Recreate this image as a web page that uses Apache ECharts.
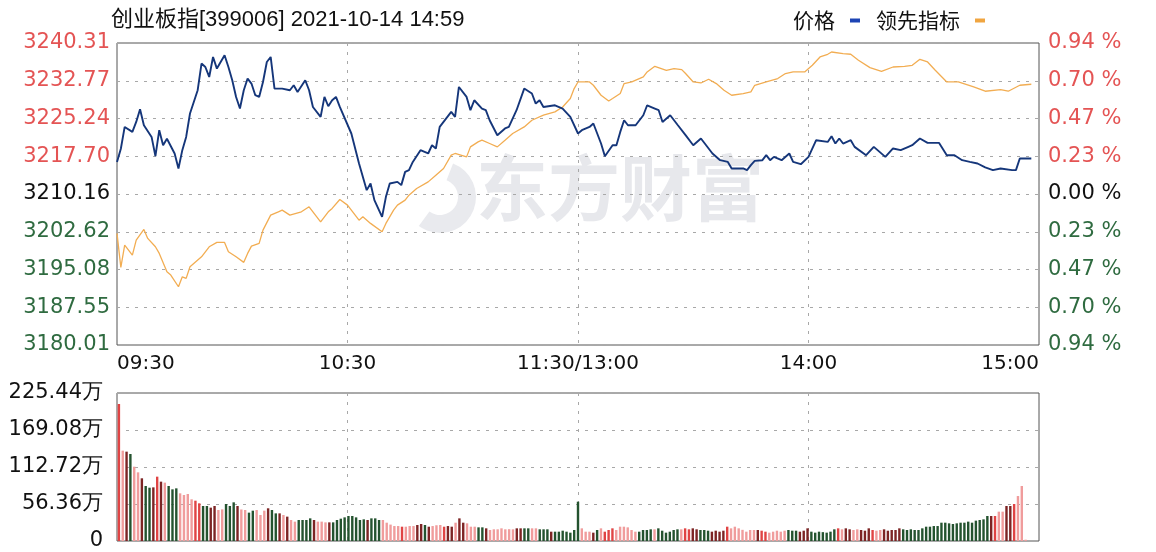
<!DOCTYPE html>
<html>
<head>
<meta charset="utf-8">
<script src="https://cdn.jsdelivr.net/npm/echarts@6/dist/echarts.min.js"></script>
<style>
html,body{margin:0;padding:0;background:#fff;}
#chart{width:1156px;height:552px;}
</style>
</head>
<body>
<div id="chart"></div>
<script>
// ---------- data ----------
const titleText = '创业板指[399006] 2021-10-14 14:59';
const timeLabels = ['09:30', '10:30', '11:30/13:00', '14:00', '15:00'];
const priceTickLabels = ['3180.01', '3187.55', '3195.08', '3202.62', '3210.16', '3217.70', '3225.24', '3232.77', '3240.31'];
const pctTickLabels = ['0.94 %', '0.70 %', '0.47 %', '0.23 %', '0.00 %', '0.23 %', '0.47 %', '0.70 %', '0.94 %'];
const volTicks = [0, 56.36, 112.72, 169.08, 225.44];

// price line: [minute index from 09:30, value]
const priceData = [
 [0,3216.57],[1,3219.2],[2,3223.55],[4,3222.56],[5,3224.55],[6,3227.09],[7,3223.89],[9,3221.56],[10,3217.71],[11,3222.90],
 [12,3219.90],[13,3221.20],[15,3218.25],[16,3215.26],[17,3218.91],[18,3221.56],[19,3226.23],[21,3230.88],[22,3236.20],[23,3235.52],
 [24,3233.53],[25,3237.52],[26,3235.20],[28,3237.86],[29,3235.52],[30,3232.87],[31,3229.54],[32,3227.22],[33,3230.88],[34,3233.21],
 [35,3232.21],[36,3229.88],[37,3229.54],[38,3232.53],[39,3236.52],[40,3237.52],[41,3231.21],[43,3231.21],[45,3230.88],[46,3231.87],
 [47,3230.54],[49,3232.87],[50,3230.88],[51,3227.54],[53,3225.55],[54,3229.54],[55,3227.68],[56,3228.88],[57,3229.54],[58,3227.54],
 [61,3222.24],[63,3216.25],[65,3210.93],[66,3212.26],[67,3208.93],[69,3205.60],[70,3209.59],[71,3212.26],[73,3212.58],[74,3211.93],
 [75,3214.58],[76,3214.92],[77,3216.57],[79,3218.91],[81,3218.25],[82,3219.90],[83,3219.25],[84,3223.55],[87,3226.55],[88,3225.55],
 [89,3231.53],[91,3229.54],[92,3226.89],[93,3228.88],[95,3227.22],[96,3226.89],[97,3224.89],[99,3221.90],[101,3223.24],[102,3223.55],
 [104,3226.89],[106,3231.21],[108,3230.22],[109,3228.22],[110,3228.88],[111,3227.54],[114,3227.88],[116,3227.22],[118,3225.55],[120,3222.24],
 [121,3222.90],[123,3223.55],[124,3224.23],[126,3220.24],[127,3217.71],[129,3219.90],[130,3219.90],[131,3222.56],[132,3224.89],[133,3223.89],
 [135,3223.89],[137,3225.89],[138,3227.88],[140,3227.22],[141,3226.89],[142,3224.55],[144,3225.89],[146,3223.89],[148,3221.90],[150,3219.90],
 [152,3221.24],[153,3220.24],[155,3218.25],[157,3216.91],[159,3216.57],[160,3215.26],[163,3215.26],[164,3214.92],[165,3215.91],[166,3216.77],
 [168,3216.91],[169,3217.91],[170,3216.91],[171,3217.57],[173,3216.91],[175,3218.25],[176,3216.57],[178,3216.11],[180,3217.57],[182,3220.90],
 [185,3220.56],[186,3221.70],[187,3220.24],[188,3221.24],[189,3220.24],[191,3220.90],[192,3219.57],[195,3217.91],[197,3219.57],[200,3217.57],
 [202,3219.25],[204,3218.91],[206,3219.57],[207,3219.90],[209,3221.24],[211,3220.36],[214,3220.36],[216,3217.91],[218,3217.91],[220,3216.91],
 [222,3216.57],[224,3216.25],[226,3215.46],[228,3214.92],[230,3215.26],[233,3214.92],[234,3214.92],[235,3217.25],[238,3217.25]
];

// leading indicator line
const leadData = [
 [0,3202.29],[1,3195.5],[2,3199.96],[3,3198.96],[4,3197.96],[5,3200.95],[7,3203.09],[8,3201.29],[10,3199.62],[11,3198.30],
 [13,3194.63],[14,3193.97],[16,3191.64],[17,3193.63],[18,3193.31],[19,3195.63],[22,3197.62],[24,3199.62],[26,3200.50],[28,3200.50],
 [29,3198.62],[31,3197.62],[33,3196.51],[34,3198.30],[35,3199.76],[37,3200.30],[38,3202.95],[40,3205.94],[42,3206.60],[43,3206.94],
 [45,3205.94],[48,3206.60],[50,3207.60],[53,3204.60],[55,3206.60],[56,3207.28],[58,3209.07],[60,3207.94],[63,3204.94],[64,3205.60],
 [66,3204.29],[69,3202.61],[70,3204.29],[72,3206.94],[73,3207.94],[75,3208.93],[76,3209.93],[78,3211.27],[81,3212.58],[83,3213.92],
 [85,3215.26],[87,3217.91],[88,3218.25],[91,3217.57],[92,3219.57],[94,3220.56],[95,3220.90],[97,3220.24],[99,3219.57],[101,3220.90],
 [103,3222.24],[106,3223.55],[108,3224.89],[111,3225.89],[114,3226.55],[116,3227.54],[118,3229.22],[119,3231.21],[120,3232.53],[123,3232.53],
 [124,3231.87],[126,3229.88],[128,3228.74],[129,3229.22],[131,3230.22],[132,3232.21],[134,3232.53],[137,3233.53],[138,3234.53],[140,3235.66],
 [143,3234.86],[145,3235.20],[147,3235.00],[148,3234.21],[150,3232.53],[152,3232.33],[154,3233.07],[156,3232.21],[158,3230.88],[160,3229.88],
 [163,3230.22],[165,3230.54],[166,3231.87],[169,3232.53],[172,3233.21],[174,3234.21],[176,3234.53],[179,3234.53],[181,3235.86],[183,3237.52],
 [185,3238.06],[186,3238.51],[189,3238.20],[191,3238.06],[193,3236.86],[196,3235.40],[199,3234.66],[202,3235.52],[205,3235.66],[207,3235.86],
 [209,3237.06],[211,3236.52],[213,3234.86],[216,3232.53],[219,3232.53],[223,3231.53],[226,3230.68],[230,3231.01],[232,3230.68],[235,3231.87],
 [238,3232.07]
];

// volume (万), one per minute
const volMorning = [
 208.7,137.6,136.1,132.5,113.2,104.6,95.5,83.8,81.2,81.7,
 98.0,90.4,88.9,83.8,78.7,80.2,72.6,70.1,71.6,63.5,
 61.4,57.4,53.3,53.3,50.8,53.3,47.2,48.2,56.4,53.3,
 58.9,53.3,48.0,47.2,43.2,46.2,47.2,39.6,46.2,49.8,
 47.2,42.1,42.1,39.6,37.1,32.0,29.5,32.0,32.0,32.0,
 34.5,32.0,29.5,29.5,28.4,28.4,28.4,32.0,34.0,36.0,
 38.1,38.1,36.0,32.0,33.0,32.0,34.5,34.5,32.0,32.0,
 27.9,25.0,22.8,22.8,21.8,21.8,22.8,22.8,24.4,25.9,
 24.4,21.8,22.8,24.0,24.4,21.8,22.8,21.8,27.9,34.5,
 27.9,26.9,21.8,21.8,20.8,20.8,19.3,16.8,17.8,17.8,
 19.3,17.8,18.0,17.8,19.3,19.3,19.3,19.3,19.3,19.3,
 17.8,17.8,17.8,14.2,14.2,14.2,15.7,14.2,12.7,16.8,
 59.9
];
const volAfternoon = [
 19.3,14.2,14.2,12.7,16.8,19.3,14.2,16.8,19.3,16.8,
 21.8,21.8,20.8,16.8,14.2,14.2,16.8,16.8,17.8,17.8,
 19.3,15.7,12.7,14.2,16.8,17.8,17.8,19.3,17.8,19.3,
 17.8,16.8,16.8,15.7,14.2,15.7,14.2,15.7,21.8,19.3,
 21.8,19.3,17.0,14.2,16.8,16.8,16.8,15.7,14.2,12.7,
 14.2,15.7,14.2,15.7,16.8,15.7,15.7,14.2,15.7,19.3,
 14.2,12.7,14.2,13.5,12.7,14.2,17.8,19.3,17.8,19.3,
 17.8,16.8,17.8,16.8,15.7,19.3,16.8,15.7,16.8,17.8,
 15.7,16.8,16.8,19.3,17.8,16.8,17.8,16.8,16.8,19.3,
 21.8,21.8,22.8,22.8,27.9,27.9,26.9,25.9,26.9,27.9,
 27.9,29.5,27.9,31.0,32.0,33.0,38.1,38.1,38.1,44.7,
 44.7,53.3,53.3,56.4,68.5,83.8,2.0
];
// bar colour codes: p pink, m red, d dark red, g dark green
const volCodesMorning = 'mpdgppdggd' + 'mdpgggpppp' + 'mmggddppgg' + 'gdppggpppd' + 'ggdpdppggg' + 'gdpppdgggg' +
  'gggggdgggp' + 'ppppmpppdd' + 'gdpppmddpd' + 'dpppggdppp' + 'ppppddggpp' + 'gggdgggggg' + 'g';
const volCodesAfternoon = 'pppdgpmmmp' + 'pppppggggp' + 'ggggggpmmd' + 'dgggddddmp' + 'ppppppdmmp' + 'ppppgggddd' +
  'gggggggmpd' + 'dppdddmppd' + 'ddddgggggg' + 'gggggggggg' + 'gggggggdmp' + 'pddmppp';

// ---------- build ----------
const volumes = volMorning.concat(volAfternoon);
const volCodes = volCodesMorning + volCodesAfternoon;
const codeColor = { p: '#f09c9c', m: '#e04444', d: '#7d2424', g: '#24532f' };
const minuteCats = [];
for (let i = 0; i <= 240; i++) {
  let h, m;
  if (i <= 120) { const t = 9 * 60 + 30 + i; h = Math.floor(t / 60); m = t % 60; }
  else { const t = 13 * 60 + (i - 120); h = Math.floor(t / 60); m = t % 60; }
  minuteCats.push(String(h).padStart(2, '0') + ':' + String(m).padStart(2, '0'));
}
const volBars = volumes.map((v, i) => ({ value: v, itemStyle: { color: codeColor[volCodes[i]] || '#e04444' } }));

const RED = '#e45454', GREEN = '#2f6b40', BLACK = '#111';
const labelFont = 'DejaVu Sans';
const dashStyle = { color: '#a8a8a8', type: [3, 6], width: 1 };

const chart = echarts.init(document.getElementById('chart'), null, { renderer: 'canvas' });
chart.setOption({
  animation: false,
  backgroundColor: '#ffffff',
  title: {
    text: titleText, left: 106, top: 4,
    textStyle: { fontFamily: 'Liberation Sans, Noto Sans CJK SC', fontSize: 22, fontWeight: 'normal', color: '#111' }
  },
  legend: {
    top: 5, right: 166, align: 'right', icon: 'rect', itemWidth: 10, itemHeight: 4, itemGap: 16,
    textStyle: { fontFamily: 'Noto Sans CJK SC', fontSize: 21, color: '#111', padding: [0, 10, 0, 0] },
    data: [
      { name: '价格', itemStyle: { color: '#1d44b4' } },
      { name: '领先指标', itemStyle: { color: '#f0a540' } }
    ]
  },
  graphic: [
    { type: 'sector', z: 0, shape: { cx: 440, cy: 197, r: 36, r0: 18, startAngle: -1.2, endAngle: 2.2 },
      style: { fill: '#e9eaee' } },
    { type: 'text', z: 0, left: 476, top: 152,
      style: { text: '东方财富', font: 'bold 72px "Noto Sans CJK SC"', fill: '#e7e8ec' } }
  ],
  grid: [
    { left: 117, top: 43, width: 922, height: 302, show: true, borderColor: '#555', borderWidth: 1, backgroundColor: 'transparent' },
    { left: 117, top: 393, width: 922, height: 148, show: true, borderColor: '#555', borderWidth: 1, backgroundColor: 'transparent' }
  ],
  xAxis: [
    { type: 'value', gridIndex: 0, min: 0, max: 240, interval: 60,
      axisLine: { show: false }, axisTick: { show: false },
      splitLine: { show: true, lineStyle: dashStyle },
      axisLabel: { margin: 9, fontFamily: labelFont, fontSize: 20, color: '#111',
        alignMinLabel: 'left', alignMaxLabel: 'right',
        formatter: v => timeLabels[Math.round(v / 60)] } },
    { type: 'category', gridIndex: 1, data: minuteCats, boundaryGap: true, show: false },
    { type: 'value', gridIndex: 1, min: 0, max: 240, interval: 60,
      axisLine: { show: false }, axisTick: { show: false }, axisLabel: { show: false },
      splitLine: { show: true, lineStyle: dashStyle } }
  ],
  yAxis: [
    { type: 'value', gridIndex: 0, min: Number(priceTickLabels[0]), max: Number(priceTickLabels[8]), show: false, splitLine: { show: false } },
    { type: 'value', gridIndex: 0, position: 'left', min: 0, max: 8, interval: 1,
      axisLine: { show: false }, axisTick: { show: false },
      splitLine: { show: true, lineStyle: dashStyle },
      axisLabel: { margin: 7, fontFamily: labelFont, fontSize: 21,
        formatter: v => priceTickLabels[v],
        color: v => (v > 4 ? RED : (v < 4 ? GREEN : BLACK)) } },
    { type: 'value', gridIndex: 0, position: 'right', min: 0, max: 8, interval: 1,
      axisLine: { show: false }, axisTick: { show: false }, splitLine: { show: false },
      axisLabel: { margin: 9, fontFamily: labelFont, fontSize: 21,
        formatter: v => pctTickLabels[8 - v],
        color: v => (v > 4 ? RED : (v < 4 ? GREEN : BLACK)) } },
    { type: 'value', gridIndex: 1, min: volTicks[0], max: volTicks[4], interval: volTicks[1],
      axisLine: { show: false }, axisTick: { show: false },
      splitLine: { show: true, lineStyle: dashStyle },
      axisLabel: { margin: 14, fontFamily: labelFont, fontSize: 21, color: '#111',
        formatter: v => (v === 0 ? '0' : v.toFixed(2) + '万') } }
  ],
  series: [
    { name: '领先指标', type: 'line', xAxisIndex: 0, yAxisIndex: 0, data: leadData, showSymbol: false, symbol: 'none',
      lineStyle: { color: '#f2ad52', width: 1.3 }, itemStyle: { color: '#f0a540' }, z: 3 },
    { name: '价格', type: 'line', xAxisIndex: 0, yAxisIndex: 0, data: priceData, showSymbol: false, symbol: 'none',
      lineStyle: { color: '#15367a', width: 1.9 }, itemStyle: { color: '#15367a' }, z: 4 },
    { name: '成交量', type: 'bar', xAxisIndex: 1, yAxisIndex: 3, data: volBars, barWidth: 2.4, z: 3 }
  ]
});
</script>
</body>
</html>
